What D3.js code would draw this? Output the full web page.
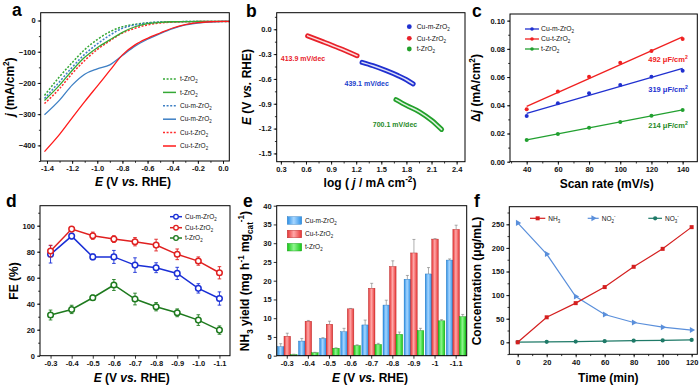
<!DOCTYPE html>
<html>
<head>
<meta charset="utf-8">
<script src="https://cdn.jsdelivr.net/npm/d3@7"></script>
<style>
  body { margin: 0; background: #fff; }
  svg { display: block; }
  text { font-family: Arial, "Liberation Sans", sans-serif; }
</style>
</head>
<body>
<div id="chart"></div>
<script>
// ---- data ----
// a: LSV curves
const lsvE = [-1.42, -1.3, -1.2, -1.1, -1.0, -0.9, -0.8, -0.7, -0.6, -0.5, -0.4, -0.3, -0.2, -0.1, 0, 0.05];
const lsvTDash   = [-240, -180, -135, -93, -61, -36, -20, -12, -7, -5, -4, -3.5, -3, -3, -3, -3];
const lsvT       = [-256, -207, -160, -118, -87, -62, -38, -20, -10, -6, -4, -3.5, -3, -3, -2.5, -2.5];
const lsvCuMDash = [-250, -196, -150, -108, -75, -47, -25, -14, -8, -5, -4, -3.5, -3, -3, -3, -3];
const lsvCuM     = [-302, -255, -207, -172, -155, -142, -112, -82, -60, -42, -26, -14, -8, -5, -3, -3];
const lsvCuTDash = [-266, -218, -170, -128, -93, -65, -40, -25, -14, -8, -5, -4, -3.5, -3, -3, -3];
const lsvCuT     = [-420, -365, -312, -260, -210, -160, -110, -78, -57, -40, -24, -13, -7, -4, -2.5, -2.5];

// b: Tafel
const tafelCuTLog = [0.62, 0.8, 1.0, 1.21];
const tafelCuTE   = [-0.08, -0.15, -0.23, -0.32];
const tafelCuMLog = [1.27, 1.4, 1.56, 1.7, 1.8, 1.88];
const tafelCuME   = [-0.40, -0.44, -0.50, -0.56, -0.61, -0.66];
const tafelTLog   = [1.675, 1.8, 1.96, 2.1, 2.22];
const tafelTE     = [-0.85, -0.92, -1.0, -1.1, -1.21];

// c: double layer
const scanRates = [40, 60, 80, 100, 120, 140];
const cdlCuM = [0.0324, 0.0414, 0.0485, 0.0544, 0.0603, 0.0645];
const cdlCuT = [0.0372, 0.0497, 0.0603, 0.0702, 0.0785, 0.087];
const cdlT   = [0.0154, 0.0196, 0.0241, 0.0282, 0.0326, 0.0367];

// d: FE
const fePotentials = ["-0.3", "-0.4", "-0.5", "-0.6", "-0.7", "-0.8", "-0.9", "-1.0", "-1.1"];
const feCuM = [78, 92, 76, 76, 69.7, 67.7, 63.3, 51.8, 44];
const feCuMErr = [6.7, 2.2, 2.2, 5, 5.6, 3.8, 4.7, 3.6, 5.1];
const feCuT = [80.5, 97.4, 92.3, 89.7, 87.7, 85.1, 78, 72.8, 63.8];
const feCuTErr = [4.5, 1.5, 2.8, 2.6, 3.2, 4.5, 4.1, 3.2, 4.7];
const feT = [31.3, 35.6, 44.6, 54.4, 43.6, 37.7, 33, 27.4, 19.7];
const feTErr = [3.8, 3.2, 2, 4.2, 4.5, 3.2, 3, 4.1, 3.2];

// e: NH3 yield
const yieldPotentials = ["-0.3", "-0.4", "-0.5", "-0.6", "-0.7", "-0.8", "-0.9", "-1", "-1.1"];
const yieldCuM = [2.4, 3.9, 4.6, 6.4, 8.2, 13.5, 20.4, 21.8, 25.5];
const yieldCuMErr = [0.8, 0.7, 0.2, 0.9, 1.3, 1.3, 1.0, 1.7, 0.3];
const yieldCuT = [5.2, 9.2, 8.4, 12.5, 18, 23.8, 27.4, 31.1, 33.7];
const yieldCuTErr = [0.8, 0.2, 0.8, 0.1, 1.3, 1.5, 3.6, 0.1, 1.1];
const yieldT = [0.3, 0.8, 2, 2.7, 3, 5.7, 6.7, 9.3, 10.4];
const yieldTErr = [0.1, 0.1, 0.1, 0.2, 0.3, 0.6, 0.6, 0.3, 0.6];

// f: concentration vs time
const times = [0, 20, 40, 60, 80, 100, 120];
const concNH3 = [0, 53, 83, 117, 160, 198, 244];
const concNO2 = [253, 187, 97, 59, 42, 32, 26];
const concNO3 = [0.5, 1, 1.5, 2.5, 3.5, 4, 5];

// ---- setup ----
const svg = d3.select("#chart").append("svg")
  .attr("width", 700).attr("height", 389);
svg.append("rect").attr("width", 700).attr("height", 389).attr("fill", "#fff");

const hy = s => s.replace("\u2212", "-");

// write text made of parts: [str, kind] with kind in i / sub / sup
function rich(t, parts, size) {
  let shift = 0;
  parts.forEach(([s, k]) => {
    const sp = t.append("tspan").text(s);
    let target = 0;
    if (k === "sub") target = size * 0.3;
    if (k === "sup") target = -size * 0.4;
    if (k === "sub" || k === "sup") sp.attr("font-size", size * 0.68);
    if (k === "i") sp.attr("font-style", "italic");
    if (target !== shift) { sp.attr("dy", target - shift); shift = target; }
  });
  return t;
}

function styleAxis(g) {
  g.select(".domain").remove();
  g.selectAll(".tick line").attr("stroke", "#000").attr("stroke-width", 0.8);
  g.selectAll(".tick text").attr("font-size", 7.5).attr("font-weight", "bold")
    .attr("fill", "#111").attr("font-family", "Arial, 'Liberation Sans', sans-serif");
}

function axes(box, x, y, o) {
  const g = svg.append("g");
  if (o.xMinor) g.append("g").attr("transform", `translate(0,${box.y1})`)
    .call(d3.axisBottom(x).tickValues(o.xMinor).tickSize(1.8).tickFormat("")).call(styleAxis);
  if (o.yMinor) g.append("g").attr("transform", `translate(${box.x0},0)`)
    .call(d3.axisLeft(y).tickValues(o.yMinor).tickSize(1.8).tickFormat("")).call(styleAxis);
  const ax = d3.axisBottom(x).tickSize(3).tickPadding(2);
  if (o.xTicks) ax.tickValues(o.xTicks);
  if (o.xFmt) ax.tickFormat(o.xFmt);
  g.append("g").attr("transform", `translate(0,${box.y1})`).call(ax).call(styleAxis);
  const ay = d3.axisLeft(y).tickSize(3).tickPadding(2).tickValues(o.yTicks);
  if (o.yFmt) ay.tickFormat(o.yFmt);
  g.append("g").attr("transform", `translate(${box.x0},0)`).call(ay).call(styleAxis);
  g.append("rect").attr("x", box.x0).attr("y", box.y0)
    .attr("width", box.x1 - box.x0).attr("height", box.y1 - box.y0)
    .attr("fill", "none").attr("stroke", "#000").attr("stroke-width", 1);
}

function xTitle(x, y, parts) {
  rich(svg.append("text").attr("x", x).attr("y", y).attr("dy", "0.35em")
    .attr("text-anchor", "middle").attr("font-size", 12).attr("font-weight", "bold"), parts, 12);
}
function yTitle(x, y, parts) {
  rich(svg.append("text").attr("transform", `translate(${x},${y}) rotate(-90)`).attr("dy", "0.35em")
    .attr("text-anchor", "middle").attr("font-size", 12).attr("font-weight", "bold"), parts, 12);
}
function letter(x, y, s) {
  svg.append("text").attr("x", x).attr("y", y).text(s)
    .attr("font-family", "'Times New Roman', 'Liberation Serif', serif")
    .attr("font-weight", "bold").attr("font-size", 17.5);
}
function legendText(x, y, parts, size, color) {
  rich(svg.append("text").attr("x", x).attr("y", y).attr("dy", "0.35em")
    .attr("font-size", size).attr("fill", color || "#111"), parts, size);
}
const labCuM = [["Cu-m-ZrO"], ["2", "sub"]];
const labCuT = [["Cu-t-ZrO"], ["2", "sub"]];
const labT = [["t-ZrO"], ["2", "sub"]];
const eTitle = [["E", "i"], [" (V "], ["vs.", "i"], [" RHE)"]];

// ================= a =================
{
  const box = { x0: 40.7, x1: 229.3, y0: 12.7, y1: 161 };
  const x = d3.scaleLinear().domain([-1.45, 0.05]).range([box.x0, box.x1]);
  const y = d3.scaleLinear().domain([-450, 25]).range([box.y1, box.y0]);
  const series = [
    { v: lsvTDash, c: "#35a835", dash: true },
    { v: lsvCuMDash, c: "#3d7fc4", dash: true },
    { v: lsvCuTDash, c: "#ff2a2a", dash: true },
    { v: lsvT, c: "#35a835", dash: false },
    { v: lsvCuM, c: "#3d7fc4", dash: false },
    { v: lsvCuT, c: "#ff1a1a", dash: false }
  ];
  const line = d3.line().x(d => x(d[0])).y(d => y(d[1])).curve(d3.curveMonotoneX);
  series.forEach(s => {
    svg.append("path").datum(lsvE.map((e, i) => [e, s.v[i]]))
      .attr("fill", "none").attr("stroke", s.c).attr("stroke-width", s.dash ? 1.5 : 1.3)
      .attr("stroke-dasharray", s.dash ? "2,1.6" : null).attr("d", line);
  });
  axes(box, x, y, {
    xTicks: d3.range(-1.4, 0.01, 0.2), xFmt: d => hy(d3.format(".1f")(d)),
    xMinor: d3.range(-1.4, 0.05, 0.1),
    yTicks: [0, -100, -200, -300, -400], yMinor: d3.range(-450, 1, 50)
  });
  const leg = [
    { l: labT, c: "#35a835", dash: true }, { l: labT, c: "#35a835", dash: false },
    { l: labCuM, c: "#3d7fc4", dash: true }, { l: labCuM, c: "#3d7fc4", dash: false },
    { l: labCuT, c: "#ff2a2a", dash: true }, { l: labCuT, c: "#ff1a1a", dash: false }
  ];
  leg.forEach((d, i) => {
    const yy = 79 + i * 13.4;
    svg.append("line").attr("x1", 163).attr("x2", 176).attr("y1", yy).attr("y2", yy)
      .attr("stroke", d.c).attr("stroke-width", 1.5)
      .attr("stroke-dasharray", d.dash ? "2,1.6" : null);
    legendText(180, yy, d.l, 6.5);
  });
  letter(12, 16, "a");
  yTitle(9.7, 87, [["j", "i"], [" (mA/cm"], ["2", "sup"], [")"]]);
  xTitle(133, 181.7, eTitle);
}

// ================= b =================
{
  const box = { x0: 276.7, x1: 465, y0: 12.7, y1: 161.7 };
  const x = d3.scaleLinear().domain([0.25, 2.5]).range([box.x0, box.x1]);
  const y = d3.scaleLinear().domain([-1.6, 0.2]).range([box.y1, box.y0]);
  const line = d3.line().x(d => x(d[0])).y(d => y(d[1])).curve(d3.curveMonotoneX);
  const series = [
    { lx: tafelCuTLog, ly: tafelCuTE, c: "#e8222a" },
    { lx: tafelCuMLog, ly: tafelCuME, c: "#2030d0" },
    { lx: tafelTLog, ly: tafelTE, c: "#22a02a" }
  ];
  series.forEach(s => {
    const pts = s.lx.map((v, i) => [v, s.ly[i]]);
    svg.append("path").datum(pts).attr("fill", "none").attr("stroke", s.c)
      .attr("stroke-width", 5).attr("stroke-linecap", "round").attr("d", line);
    svg.append("path").datum(pts).attr("fill", "none").attr("stroke", "#fff")
      .attr("stroke-width", 1.5).attr("stroke-linecap", "round").attr("opacity", 0.85).attr("d", line);
  });
  axes(box, x, y, {
    xTicks: [0.3, 0.6, 0.9, 1.2, 1.5, 1.8, 2.1, 2.4], xFmt: d3.format(".1f"),
    xMinor: d3.range(0.3, 2.5, 0.15),
    yTicks: [0, -0.3, -0.6, -0.9, -1.2, -1.5], yFmt: d => hy(d3.format(".1f")(d)),
    yMinor: d3.range(-1.5, 0.16, 0.15)
  });
  const slopes = [
    { t: "413.9 mV/dec", x: 303, y: 59, c: "#e8222a" },
    { t: "439.1 mV/dec", x: 366.7, y: 83.3, c: "#2040cc" },
    { t: "700.1 mV/dec", x: 395, y: 125, c: "#1f8a1f" }
  ];
  slopes.forEach(s => svg.append("text").attr("x", s.x).attr("y", s.y).attr("dy", "0.35em")
    .attr("text-anchor", "middle").attr("font-size", 7).attr("font-weight", "bold")
    .attr("fill", s.c).text(s.t));
  [[labCuM, "#2030d0"], [labCuT, "#e8222a"], [labT, "#22a02a"]].forEach((d, i) => {
    const yy = [26.7, 38.3, 49][i];
    svg.append("circle").attr("cx", 409.3).attr("cy", yy).attr("r", 2.4).attr("fill", d[1]);
    legendText(416.7, yy, d[0], 6.8);
  });
  letter(246, 17, "b");
  yTitle(246.7, 87, eTitle);
  xTitle(370, 183, [["log ( "], ["j", "i"], [" / mA cm"], ["-2", "sup"], [")"]]);
}

// ================= c =================
{
  const box = { x0: 510, x1: 697.3, y0: 14, y1: 161.7 };
  const x = d3.scaleLinear().domain([29.3, 149.4]).range([box.x0, box.x1]);
  const y = d3.scaleLinear().domain([0, 0.1047]).range([box.y1, box.y0]);
  const series = [
    { v: cdlCuM, c: "#2030d0" }, { v: cdlCuT, c: "#f02020" }, { v: cdlT, c: "#22a030" }
  ];
  series.forEach(s => {
    // least-squares fit line
    const mx = d3.mean(scanRates), my = d3.mean(s.v);
    const k = d3.sum(scanRates, (r, i) => (r - mx) * (s.v[i] - my)) / d3.sum(scanRates, r => (r - mx) ** 2);
    const f = r => my + k * (r - mx);
    svg.append("line").attr("x1", x(40)).attr("x2", x(140))
      .attr("y1", y(f(40))).attr("y2", y(f(140)))
      .attr("stroke", s.c).attr("stroke-width", 1.3);
    scanRates.forEach((r, i) => svg.append("circle").attr("cx", x(r)).attr("cy", y(s.v[i]))
      .attr("r", 2).attr("fill", s.c));
  });
  axes(box, x, y, {
    xTicks: scanRates, xMinor: d3.range(30, 150, 10),
    yTicks: [0, 0.02, 0.04, 0.06, 0.08, 0.1], yFmt: d3.format(".2f"),
    yMinor: d3.range(0, 0.105, 0.01)
  });
  [[labCuM, "#2030d0"], [labCuT, "#f02020"], [labT, "#22a030"]].forEach((d, i) => {
    const yy = [29, 39, 49][i];
    svg.append("line").attr("x1", 525).attr("x2", 539).attr("y1", yy).attr("y2", yy)
      .attr("stroke", d[1]).attr("stroke-width", 1.3);
    svg.append("circle").attr("cx", 532).attr("cy", yy).attr("r", 1.8).attr("fill", d[1]);
    legendText(541, yy, d[0], 6.8);
  });
  const cdl = [
    { t: "492 \u03bcF/cm", y: 59.3, c: "#f02020" },
    { t: "319 \u03bcF/cm", y: 89.3, c: "#2030d0" },
    { t: "214 \u03bcF/cm", y: 125, c: "#1f8a1f" }
  ];
  cdl.forEach(s => rich(svg.append("text").attr("x", 668).attr("y", s.y).attr("dy", "0.35em")
    .attr("text-anchor", "middle").attr("font-size", 7.5).attr("font-weight", "bold")
    .attr("fill", s.c), [[s.t], ["2", "sup"]], 7.5));
  letter(472, 17, "c");
  yTitle(476, 88, [["\u0394"], ["j", "i"], [" (mA/cm"], ["2", "sup"], [")"]]);
  xTitle(606.7, 183.3, [["Scan rate (mV/s)"]]);
}

// ================= d =================
{
  const box = { x0: 40, x1: 230, y0: 205.7, y1: 355.7 };
  const x = d3.scalePoint().domain(fePotentials).range([box.x0, box.x1]).padding(0.5);
  const y = d3.scaleLinear().domain([0, 115.4]).range([box.y1, box.y0]);
  const series = [
    { v: feCuM, e: feCuMErr, c: "#1a2fd6" },
    { v: feCuT, e: feCuTErr, c: "#e02020" },
    { v: feT, e: feTErr, c: "#1e7a1e" }
  ];
  const line = d3.line().x(d => x(d[0])).y(d => y(d[1]));
  series.forEach(s => {
    const pts = fePotentials.map((p, i) => [p, s.v[i], s.e[i]]);
    svg.append("path").datum(pts).attr("fill", "none").attr("stroke", s.c)
      .attr("stroke-width", 1.5).attr("d", line);
    pts.forEach(d => {
      const cx = x(d[0]);
      svg.append("line").attr("x1", cx).attr("x2", cx).attr("y1", y(d[1] - d[2])).attr("y2", y(d[1] + d[2]))
        .attr("stroke", s.c).attr("stroke-width", 0.9);
      [d[1] - d[2], d[1] + d[2]].forEach(v => svg.append("line")
        .attr("x1", cx - 1.8).attr("x2", cx + 1.8).attr("y1", y(v)).attr("y2", y(v))
        .attr("stroke", s.c).attr("stroke-width", 0.9));
    });
    pts.forEach(d => svg.append("circle").attr("cx", x(d[0])).attr("cy", y(d[1])).attr("r", 2.8)
      .attr("fill", "#fff").attr("stroke", s.c).attr("stroke-width", 1.5));
  });
  axes(box, x, y, {
    yTicks: [0, 20, 40, 60, 80, 100], yMinor: d3.range(0, 115, 10)
  });
  [[labCuM, "#1a2fd6"], [labCuT, "#e02020"], [labT, "#1e7a1e"]].forEach((d, i) => {
    const yy = [216.7, 227.7, 238][i];
    svg.append("line").attr("x1", 170).attr("x2", 182).attr("y1", yy).attr("y2", yy)
      .attr("stroke", d[1]).attr("stroke-width", 1.5);
    svg.append("circle").attr("cx", 176).attr("cy", yy).attr("r", 2.3)
      .attr("fill", "#fff").attr("stroke", d[1]).attr("stroke-width", 1.3);
    legendText(185, yy, d[0], 6.5);
  });
  letter(6, 207, "d");
  yTitle(13.3, 281, [["FE (%)"]]);
  xTitle(131.7, 377.3, eTitle);
}

// ================= e =================
{
  const box = { x0: 276.7, x1: 466.7, y0: 205.7, y1: 355.7 };
  const x = d3.scaleBand().domain(yieldPotentials).range([box.x0, box.x1]);
  const y = d3.scaleLinear().domain([0, 40]).range([box.y1, box.y0]);
  const defs = svg.append("defs");
  const grads = [["gBlue", "#2b8fe6", "#a6d6ff"], ["gRed", "#e63434", "#ffa8a8"], ["gGreen", "#14c814", "#8ef58e"]];
  grads.forEach(([id, edge, mid]) => {
    const g = defs.append("linearGradient").attr("id", id).attr("x1", 0).attr("x2", 1).attr("y1", 0).attr("y2", 0);
    g.append("stop").attr("offset", "0%").attr("stop-color", edge);
    g.append("stop").attr("offset", "45%").attr("stop-color", mid);
    g.append("stop").attr("offset", "100%").attr("stop-color", edge);
  });
  const bw = x.step() * 0.31;
  const series = [
    { v: yieldCuM, e: yieldCuMErr, fill: "url(#gBlue)", stroke: "#1c6fb8", off: -1.5 },
    { v: yieldCuT, e: yieldCuTErr, fill: "url(#gRed)", stroke: "#b02222", off: -0.5 },
    { v: yieldT, e: yieldTErr, fill: "url(#gGreen)", stroke: "#109010", off: 0.5 }
  ];
  series.forEach(s => {
    yieldPotentials.forEach((p, i) => {
      const bx = x(p) + x.bandwidth() / 2 + s.off * bw;
      svg.append("rect").attr("x", bx).attr("y", y(s.v[i])).attr("width", bw)
        .attr("height", y(0) - y(s.v[i])).attr("fill", s.fill)
        .attr("stroke", s.stroke).attr("stroke-width", 0.4);
      const cx = bx + bw / 2, top = y(s.v[i] + s.e[i]);
      svg.append("line").attr("x1", cx).attr("x2", cx).attr("y1", y(s.v[i])).attr("y2", top)
        .attr("stroke", "#777").attr("stroke-width", 0.6);
      svg.append("line").attr("x1", cx - 1.5).attr("x2", cx + 1.5).attr("y1", top).attr("y2", top)
        .attr("stroke", "#777").attr("stroke-width", 0.6);
    });
  });
  axes(box, x, y, { yTicks: d3.range(0, 41, 5) });
  [[labCuM, "url(#gBlue)", "#1c6fb8"], [labCuT, "url(#gRed)", "#b02222"], [labT, "url(#gGreen)", "#109010"]]
    .forEach((d, i) => {
      const yy = [220.5, 234, 247.2][i];
      svg.append("rect").attr("x", 287.3).attr("y", yy - 3.8).attr("width", 14.4).attr("height", 7.6)
        .attr("fill", d[1]).attr("stroke", d[2]).attr("stroke-width", 0.4);
      legendText(305, yy, d[0], 6.5);
    });
  letter(243, 207, "e");
  yTitle(245, 281, [["NH"], ["3", "sub"], [" yield (mg h"], ["-1", "sup"], [" mg"], ["cat", "sub"], ["-1", "sup"], [")"]]);
  xTitle(370, 377.7, eTitle);
}

// ================= f =================
{
  const box = { x0: 509.3, x1: 697.3, y0: 206.7, y1: 354.3 };
  const x = d3.scaleLinear().domain([-5.8, 123.9]).range([box.x0, box.x1]);
  const y = d3.scaleLinear().domain([-25.4, 287.3]).range([box.y1, box.y0]);
  const line = d3.line().x(d => x(d[0])).y(d => y(d[1]));
  const sq = d3.symbol(d3.symbolSquare, 16);
  const tri = d3.symbol(d3.symbolTriangle, 16);
  const cir = d3.symbol(d3.symbolCircle, 14);
  const series = [
    { v: concNO3, c: "#1f7a68", sym: cir, rot: 0 },
    { v: concNO2, c: "#5a8fdb", sym: tri, rot: 90 },
    { v: concNH3, c: "#d41f1f", sym: sq, rot: 0 }
  ];
  series.forEach(s => {
    const pts = times.map((t, i) => [t, s.v[i]]);
    svg.append("path").datum(pts).attr("fill", "none").attr("stroke", s.c)
      .attr("stroke-width", 1.2).attr("d", line);
    pts.forEach(d => svg.append("path").attr("d", s.sym())
      .attr("transform", `translate(${x(d[0])},${y(d[1])}) rotate(${s.rot})`).attr("fill", s.c));
  });
  axes(box, x, y, {
    xTicks: times, xMinor: d3.range(0, 121, 10),
    yTicks: [0, 50, 100, 150, 200, 250], yMinor: d3.range(-25, 280, 25)
  });
  const leg = [
    { x1: 530, t: 548.3, c: "#d41f1f", sym: sq, rot: 0, lab: [["NH"], ["3", "sub"]] },
    { x1: 587.7, t: 601.7, c: "#5a8fdb", sym: tri, rot: 90, lab: [["NO"], ["2", "sub"], ["-", "sup"]] },
    { x1: 648.3, t: 665, c: "#1f7a68", sym: cir, rot: 0, lab: [["NO"], ["3", "sub"], ["-", "sup"]] }
  ];
  leg.forEach(d => {
    const yy = 218.3, x2 = d.t - 3;
    svg.append("line").attr("x1", d.x1).attr("x2", x2).attr("y1", yy).attr("y2", yy)
      .attr("stroke", d.c).attr("stroke-width", 1.2);
    svg.append("path").attr("d", d.sym())
      .attr("transform", `translate(${(d.x1 + x2) / 2},${yy}) rotate(${d.rot})`).attr("fill", d.c);
    legendText(d.t, yy, d.lab, 6.5);
  });
  letter(474, 207, "f");
  yTitle(477, 281, [["Concentration (\u03bcg/mL)"]]);
  xTitle(608.3, 377.7, [["Time (min)"]]);
}
</script>
</body>
</html>
